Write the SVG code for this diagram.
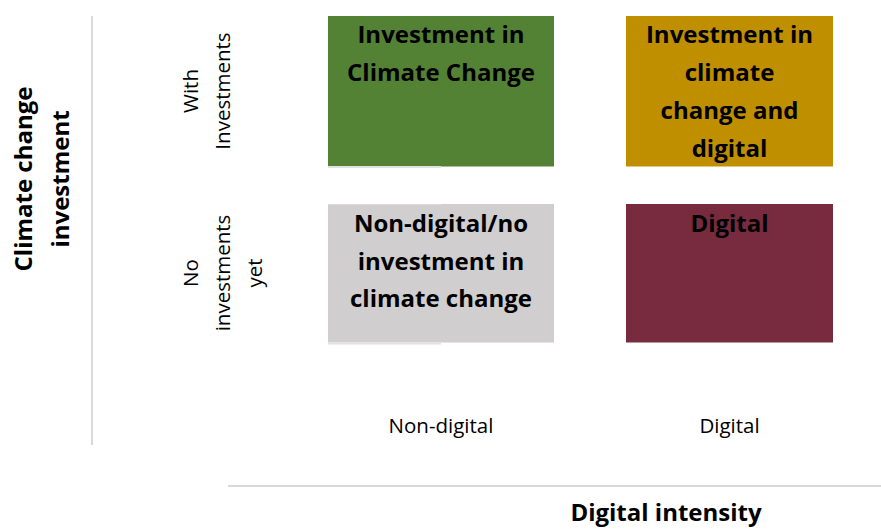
<svg xmlns="http://www.w3.org/2000/svg" width="881" height="529" viewBox="0 0 881 529">
<style>
.b{font-family:"Open Sans","Liberation Sans",sans-serif;font-weight:bold;font-size:24px;fill:#000;text-anchor:middle}
.r{font-family:"Open Sans","Liberation Sans",sans-serif;font-size:20.5px;fill:#000;text-anchor:middle}
.ax{stroke:#d9d9d9;stroke-width:2;fill:none}
.edge{stroke:#e2e2e2;stroke-width:2}
</style>
<rect width="881" height="529" fill="#fff"/>
<g id="axes">
<line class="ax" x1="92" y1="16" x2="92" y2="445"/>
<line class="ax" x1="228" y1="486" x2="881" y2="486"/>
</g>
<g id="axis-labels">
<text class="b" transform="rotate(-90 32 179)" x="32" y="179">Climate change</text>
<text class="b" transform="rotate(-90 69 179)" x="69" y="179">investment</text>
<text class="b" x="666" y="521">Digital intensity</text>
<text class="r" transform="rotate(-90 198 91)" x="198" y="91">With</text>
<text class="r" transform="rotate(-90 230 91)" x="230" y="91">Investments</text>
<text class="r" transform="rotate(-90 198 273)" x="198" y="273">No</text>
<text class="r" transform="rotate(-90 230 273)" x="230" y="273">investments</text>
<text class="r" transform="rotate(-90 262 273)" x="262" y="273">yet</text>
<text class="r" x="441" y="433">Non-digital</text>
<text class="r" x="729.5" y="433">Digital</text>
</g>
<g id="node-green">
<rect x="328" y="16" width="226" height="150.5" fill="#548235"/>
<line class="edge" x1="328" y1="167" x2="441" y2="167"/>
<text class="b" x="441" y="43">Investment in</text>
<text class="b" x="441" y="81">Climate Change</text>
</g>
<g id="node-gold">
<rect x="626" y="16" width="207" height="150.5" fill="#bf8f00"/>
<text class="b" x="729.5" y="43">Investment in</text>
<text class="b" x="729.5" y="81">climate</text>
<text class="b" x="729.5" y="119">change and</text>
<text class="b" x="729.5" y="157">digital</text>
</g>
<g id="node-grey">
<rect x="328" y="204" width="226" height="138.5" fill="#d0cece"/>
<line stroke="#dedcdc" stroke-width="1" x1="328" y1="204.5" x2="441" y2="204.5"/>
<line class="edge" x1="328" y1="343.5" x2="441" y2="343.5"/>
<text class="b" x="441" y="232">Non-digital/no</text>
<text class="b" x="441" y="270">investment in</text>
<text class="b" x="441" y="307">climate change</text>
</g>
<g id="node-maroon">
<rect x="626" y="204" width="207" height="138.5" fill="#782b3f"/>
<text class="b" x="729.5" y="232">Digital</text>
</g>
<g id="connectors"/>
</svg>
